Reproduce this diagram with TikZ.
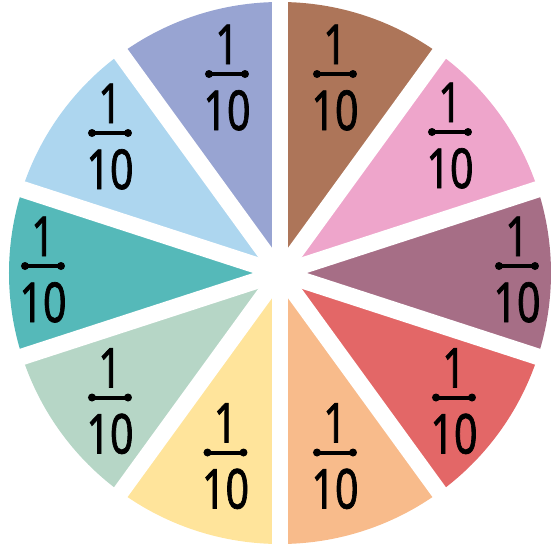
\documentclass[tikz,border=0pt]{standalone}
\usepackage{fontspec}
\newfontfamily\digitfont[FakeStretch=0.75, FakeBold=1.2]{Noto Sans}
\usepackage{xcolor}
\usepackage{tikz}
\definecolor{mauve}{HTML}{A66E86}
\definecolor{pink}{HTML}{EEA5CB}
\definecolor{brown}{HTML}{AD7559}
\definecolor{lavender}{HTML}{98A4D2}
\definecolor{skyblue}{HTML}{ADD6EF}
\definecolor{teal}{HTML}{55B9B9}
\definecolor{sage}{HTML}{B6D6C6}
\definecolor{butter}{HTML}{FFE49B}
\definecolor{peach}{HTML}{F8BB8B}
\definecolor{coral}{HTML}{E36767}

\begin{document}
\begin{tikzpicture}[
    x=0.5pt, y=0.5pt,
    gap/.style={draw=white, line width=8.3pt},
    digit/.style={font=\digitfont\fontsize{27.5}{30}\selectfont, inner sep=0pt, anchor=base},
    fracbar/.style={line width=2pt, draw=black},
    tenth/.pic={
      \node[digit] (-num) at (0,10) {1};
      \node[digit] (-den) at (0,-56) {10};
      \draw[fracbar] (-18,0) -- (18,0);
      \fill (-18,0) circle[radius=4];
      \fill (18,0) circle[radius=4];
    }
  ]
    \useasboundingbox (-280,-285) rectangle (277,273);
    \coordinate (centre) at (0,0);

    % the ten slices
    \fill[mauve]    (centre) -- (-18:271) arc[start angle=-18, end angle=18,  radius=271] -- cycle;
    \fill[pink]     (centre) -- (18:271)  arc[start angle=18,  end angle=54,  radius=271] -- cycle;
    \fill[brown]    (centre) -- (54:271)  arc[start angle=54,  end angle=90,  radius=271] -- cycle;
    \fill[lavender] (centre) -- (90:271)  arc[start angle=90,  end angle=126, radius=271] -- cycle;
    \fill[skyblue]  (centre) -- (126:271) arc[start angle=126, end angle=162, radius=271] -- cycle;
    \fill[teal]     (centre) -- (162:271) arc[start angle=162, end angle=198, radius=271] -- cycle;
    \fill[sage]     (centre) -- (198:271) arc[start angle=198, end angle=234, radius=271] -- cycle;
    \fill[butter]   (centre) -- (234:271) arc[start angle=234, end angle=270, radius=271] -- cycle;
    \fill[peach]    (centre) -- (270:271) arc[start angle=270, end angle=306, radius=271] -- cycle;
    \fill[coral]    (centre) -- (306:271) arc[start angle=306, end angle=342, radius=271] -- cycle;

    % white gaps between slices
    \draw[gap] (18:276)  -- (198:276);
    \draw[gap] (54:276)  -- (234:276);
    \draw[gap] (90:276)  -- (270:276);
    \draw[gap] (126:276) -- (306:276);
    \draw[gap] (162:276) -- (342:276);

    % labels
    \pic (mauvelbl)    at (237,7)        {tenth};
    \pic (pinklbl)     at (170,141)      {tenth};
    \pic (brownlbl)    at (55,199)       {tenth};
    \pic (lavenderlbl) at (-53,199)      {tenth};
    \pic (skybluelbl)  at (-170,140)     {tenth};
    \pic (teallbl)     at (-237,7)       {tenth};
    \pic (sagelbl)     at (-170,-124.5)  {tenth};
    \pic (butterlbl)   at (-54.5,-179.5) {tenth};
    \pic (peachlbl)    at (55,-179.5)    {tenth};
    \pic (corallbl)    at (174,-124.5)   {tenth};
\end{tikzpicture}
\end{document}
